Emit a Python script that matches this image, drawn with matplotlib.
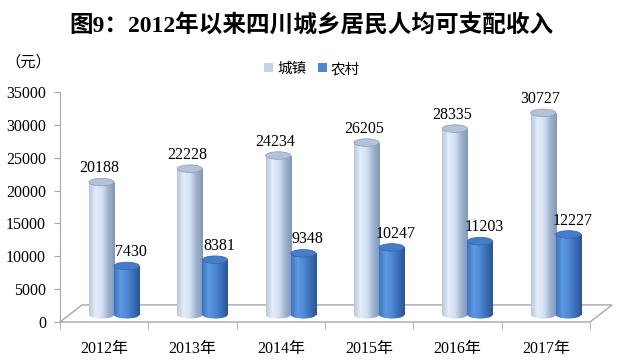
import numpy as np
import matplotlib
matplotlib.use('Agg')
import matplotlib.pyplot as plt
from matplotlib.patches import Rectangle, Ellipse, Polygon, Patch
from matplotlib.colors import LinearSegmentedColormap

years = ['2012年', '2013年', '2014年', '2015年', '2016年', '2017年']
urban = [20188, 22228, 24234, 26205, 28335, 30727]
rural = [7430, 8381, 9348, 10247, 11203, 12227]
series_names = ['城镇', '农村']

serif = ['Liberation Serif', 'Noto Sans CJK SC']
cjk = ['Noto Sans CJK SC', 'DejaVu Sans']

# cylinder shading (left -> right)
light_cmap = LinearSegmentedColormap.from_list(
    'light', ['#b9c8de', '#e4edf9', '#d3e0f2', '#9fb3d0', '#8296b8'])
dark_cmap = LinearSegmentedColormap.from_list(
    'dark', ['#3f74bf', '#5e99e2', '#4f88d4', '#3a6fb8', '#2a5694'])
light_top = '#b3c2d9'
dark_top = '#457dca'

fig = plt.figure(figsize=(6.22, 3.64), dpi=100)
ax = fig.add_axes([60 / 622, 42 / 364, 530 / 622, 230 / 364])
ax.set_xlim(-0.5, 5.5)
ax.set_ylim(0, 35000)

# 3D-ish floor
depth_x, depth_y = 0.25, 2600
floor = Polygon([(-0.5, 0), (5.5, 0), (5.5 + depth_x, depth_y), (-0.5 + depth_x, depth_y)],
                closed=True, facecolor='white', edgecolor='#a6a6a6', lw=1.0,
                clip_on=False, zorder=1)
ax.add_patch(floor)

lift = 1100      # bars stand on the middle of the floor
bw = 0.285
eh = 1150        # ellipse height in data units
grad = np.linspace(0, 1, 64).reshape(1, -1)


def cylinder(xc, val, cmap, topc):
    x0, x1 = xc - bw / 2, xc + bw / 2
    top = val + lift
    rect = Rectangle((x0, lift), bw, val, transform=ax.transData)
    im = ax.imshow(grad, cmap=cmap, extent=[x0, x1, lift - eh / 2, top],
                   aspect='auto', zorder=3, interpolation='bilinear')
    im.set_clip_path(rect)
    bot = Ellipse((xc, lift), bw, eh, transform=ax.transData)
    im2 = ax.imshow(grad, cmap=cmap, extent=[x0, x1, lift - eh / 2, top],
                    aspect='auto', zorder=3, interpolation='bilinear')
    im2.set_clip_path(bot)
    ax.add_patch(Ellipse((xc, top), bw, eh, facecolor=topc,
                         edgecolor='#8a9bb5' if topc == light_top else '#3565a8',
                         lw=0.5, zorder=4))
    return top


x = np.arange(len(years))
for i in x:
    t = cylinder(i - 0.03, urban[i], light_cmap, light_top)
    ax.text(i - 0.06, t + 900, str(urban[i]), ha='center', va='bottom',
            fontsize=11.5, family=serif, zorder=5)
    t = cylinder(i + 0.255, rural[i], dark_cmap, dark_top)
    ax.text(i + 0.3, t + 900, str(rural[i]), ha='center', va='bottom',
            fontsize=11.5, family=serif, zorder=5)

ax.set_xlim(-0.5, 5.5)
ax.set_ylim(0, 35000)

# axes styling
for s in ['top', 'right', 'bottom']:
    ax.spines[s].set_visible(False)
ax.spines['left'].set_color('#a6a6a6')
ax.set_yticks(range(0, 35001, 5000))
ax.set_yticklabels([str(v) for v in range(0, 35001, 5000)], family=serif, fontsize=11.5)
ax.tick_params(axis='y', direction='out', length=4, color='#a6a6a6', pad=6)
ax.set_xticks(x)
ax.set_xticklabels(years, family=serif, fontsize=11.5)
ax.tick_params(axis='x', length=0, pad=14)
ax.set_xticks(np.arange(-0.5, 5.6, 1), minor=True)
ax.tick_params(axis='x', which='minor', direction='out', length=5, color='#a6a6a6')

fig.text(0.5, 1 - 25 / 364, '图9：2012年以来四川城乡居民人均可支配收入', ha='center', va='center',
         fontsize=17, fontweight='bold', family=serif)
fig.text(5 / 622, 1 - 62 / 364, '（元）', ha='left', va='center', fontsize=11, family=cjk)

handles = [Patch(facecolor='#c3d3ea', edgecolor='none'),
           Patch(facecolor='#4f86d2', edgecolor='none')]
fig.legend(handles, series_names, loc='center', bbox_to_anchor=(312 / 622, 1 - 69 / 364),
           ncol=2, frameon=False, prop={'family': cjk, 'size': 10.5},
           handlelength=0.6, handleheight=0.6, handletextpad=0.3, columnspacing=0.8)

fig.savefig('out.png', dpi=100)
